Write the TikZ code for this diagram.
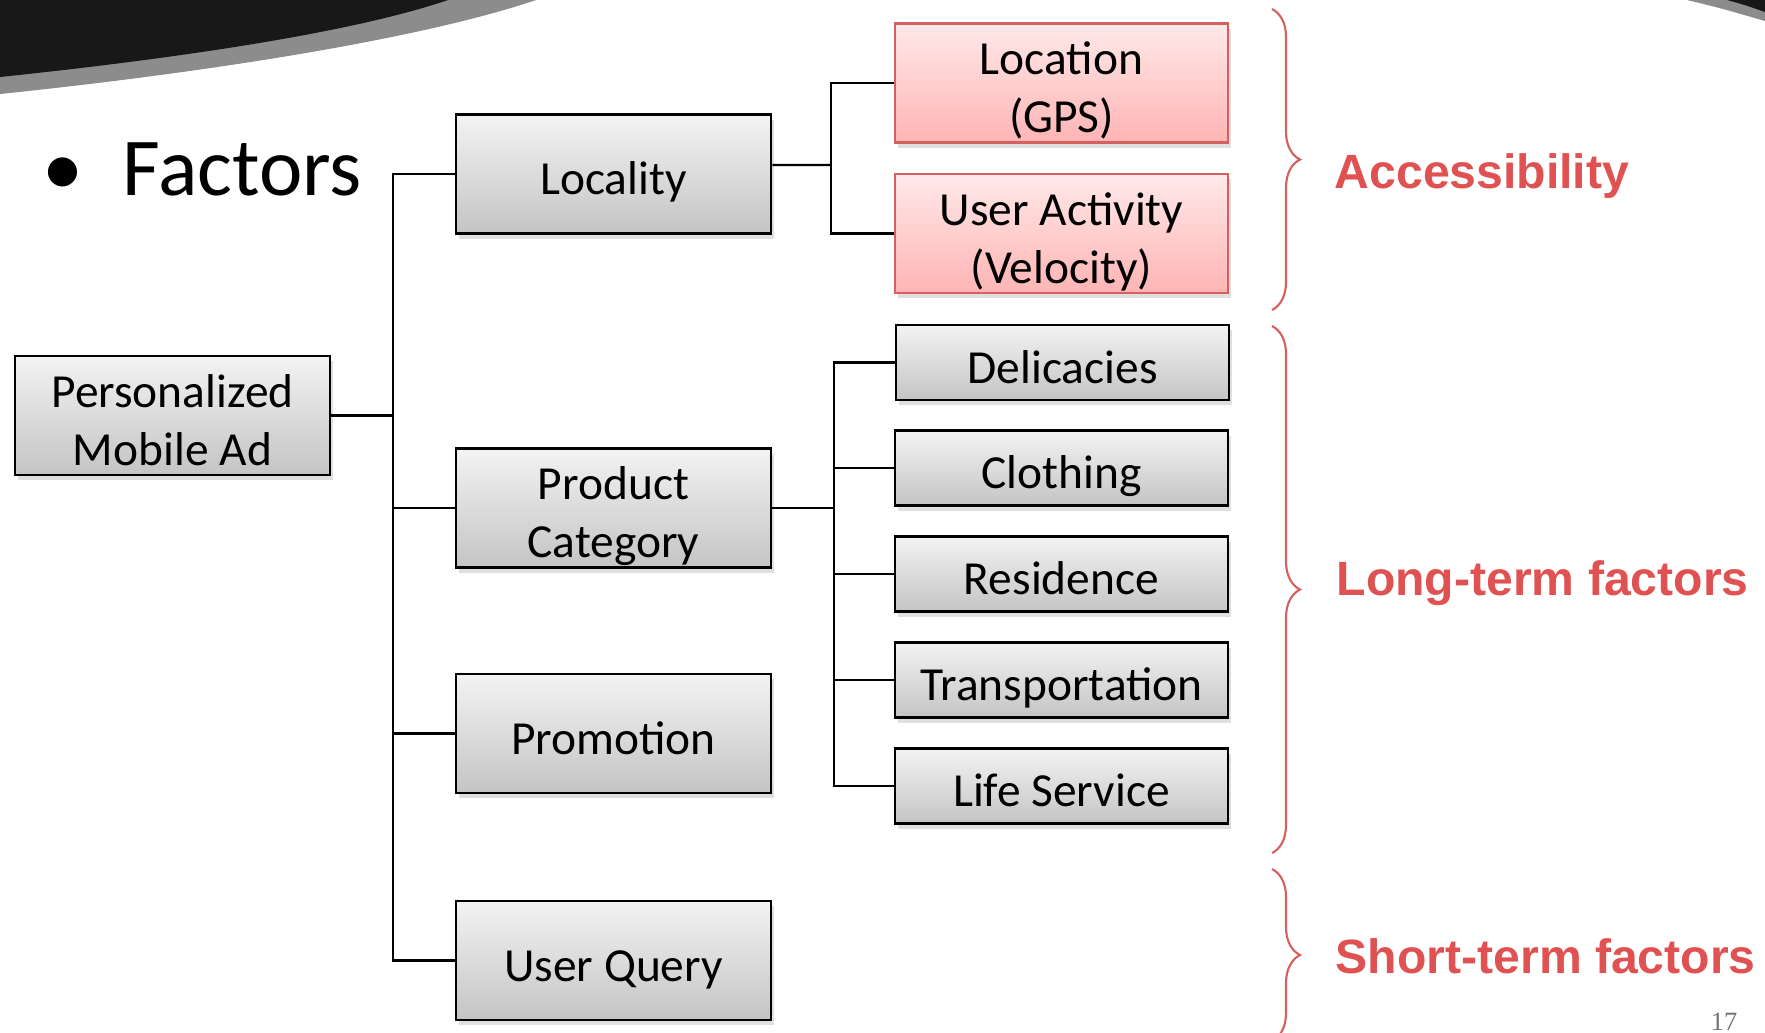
\documentclass[tikz,border=0pt]{standalone}
\usepackage{fontspec}
\setmainfont{Carlito}
\newfontfamily\headfont{Liberation Sans}
\newfontfamily\numfont{Liberation Serif}
\usetikzlibrary{shadows,decorations.pathreplacing}

\definecolor{boxtop}{RGB}{243,243,243}
\definecolor{boxbottom}{RGB}{196,196,196}
\definecolor{redtop}{RGB}{255,233,233}
\definecolor{redbottom}{RGB}{255,180,180}
\definecolor{redline}{RGB}{212,96,96}
\definecolor{accent}{RGB}{224,82,82}
\definecolor{banner}{RGB}{24,24,24}
\definecolor{bannerrim}{RGB}{140,140,140}

\begin{document}
\begin{tikzpicture}[
	box/.style={
		draw=black,
		line width=0.75pt,
		top color=boxtop,
		bottom color=boxbottom,
		minimum width=3.15cm,
		minimum height=1.19cm,
		align=center,
		inner xsep=2pt,
		inner ysep=0pt,
		text height=11.8pt,
		text depth=0pt,
		font=\fontsize{13.5}{16.4}\selectfont,
		drop shadow={shadow xshift=0.03cm, shadow yshift=-0.05cm, opacity=0.25},
	},
	twoline/.style={text height=28.2pt, text depth=0pt},
	redbox/.style={
		box,
		draw=redline,
		top color=redtop,
		bottom color=redbottom,
		minimum width=3.33cm,
	},
	leaf/.style={
		box,
		minimum width=3.33cm,
		minimum height=0.75cm,
	},
	link/.style={line width=0.6pt},
	brace/.style={
		draw=redline,
		line width=0.6pt,
		decorate,
		decoration={brace, amplitude=0.28cm},
	},
	factor/.style={
		anchor=base west,
		inner sep=0pt,
		text=accent,
		font=\headfont\bfseries\fontsize{13.7}{16}\selectfont,
	},
]

\useasboundingbox (0,0) rectangle (17.65,-10.32);

% slide banner in the corners
\fill[bannerrim] (0,0) -- (0,-0.94) .. controls (2.3,-0.70) and (4.3,-0.36) .. (5.36,0) -- cycle;
\fill[banner] (0,0) -- (0,-0.77) .. controls (2.0,-0.56) and (3.6,-0.30) .. (4.48,0) -- cycle;
\fill[bannerrim] (16.87,0) .. controls (17.2,-0.08) .. (17.65,-0.21) -- (17.65,0) -- cycle;
\fill[banner] (17.27,0) .. controls (17.45,-0.05) .. (17.65,-0.12) -- (17.65,0) -- cycle;

\node[anchor=base, font=\fontsize{23.4}{28}\selectfont] (bullet) at (0.63,-1.95) {\textbullet};
\node[anchor=base west, inner sep=0pt, font=\fontsize{23.4}{28}\selectfont] (factors) at (1.22,-1.95) {Factors};

\node[box, twoline] (root) at (1.725,-4.155) {Personalized \\ Mobile Ad};
\node[box] (locality) at (6.135,-1.74) {Locality};
\node[box, twoline] (product) at (6.135,-5.08) {Product \\ Category};
\node[box] (promo) at (6.135,-7.335) {Promotion};
\node[box] (query) at (6.135,-9.605) {User Query};

\node[redbox, twoline] (location) at (10.615,-0.83) {Location \\ (GPS)};
\node[redbox, twoline] (activity) at (10.615,-2.335) {User Activity \\ (Velocity)};

\node[leaf] (delicacies) at (10.625,-3.625) {Delicacies};
\node[leaf] (clothing) at (10.615,-4.68) {Clothing};
\node[leaf] (residence) at (10.615,-5.74) {Residence};
\node[leaf] (transport) at (10.615,-6.80) {Transportation};
\node[leaf] (life) at (10.615,-7.86) {Life Service};

% tree connectors
\coordinate (trunk) at (3.93,-4.155);
\coordinate (locbar) at (8.31,-1.65);
\coordinate (catbar) at (8.34,-5.08);

\draw[link] (root) -- (trunk);
\draw[link] (trunk) |- (locality);
\draw[link] (trunk) |- (product);
\draw[link] (trunk) |- (promo);
\draw[link] (trunk) |- (query);

\draw[link] ([yshift=0.09cm]locality.east) -- (locbar);
\draw[link] (locbar) |- (location);
\draw[link] (locbar) |- (activity);

\draw[link] (product) -- (catbar);
\draw[link] (catbar) |- (delicacies);
\draw[link] (catbar) |- (clothing);
\draw[link] (catbar) |- (residence);
\draw[link] (catbar) |- (transport);
\draw[link] (catbar) |- (life);

% groups on the right
\draw[brace] (12.72,-0.09) -- (12.72,-3.10);
\draw[brace] (12.72,-3.26) -- (12.72,-8.53);
\draw[brace] (12.72,-8.69) -- (12.72,-10.41);

\node[factor] (access) at (13.34,-1.88) {Accessibility};
\node[factor] (longterm) at (13.36,-5.95) {Long-term factors};
\node[factor] (shortterm) at (13.35,-9.73) {Short-term factors};

\node[anchor=base east, inner sep=0pt, text=black!55, font=\numfont\fontsize{7.5}{9}\selectfont] (page) at (17.38,-10.30) {17};

\end{tikzpicture}
\end{document}
